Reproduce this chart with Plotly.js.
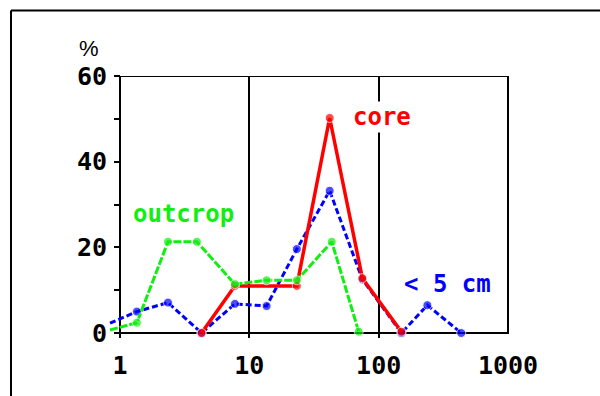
<!DOCTYPE html>
<html>
<head>
<meta charset="utf-8">
<script src="https://cdn.plot.ly/plotly-3.0.1.min.js"></script>
<style>html,body{margin:0;padding:0;background:#fff;overflow:hidden;}#chart{width:600px;height:396px;}</style>
</head>
<body>
<div id="chart"></div>
<script>
// ---- data ----
const outcropX = [0.837, 1.35, 2.35, 3.93, 7.73, 13.6, 23.3, 43.4, 70.1];
const outcropY = [0.7, 2.4, 21.3, 21.3, 11.4, 12.3, 12.3, 21.3, 0.3];
const coreX = [4.27, 7.73, 23.3, 41.8, 74.8, 150];
const coreY = [0, 11, 11, 50.2, 12.8, 0.3];
const smallX = [0.837, 1.35, 2.35, 4.27, 7.73, 13.6, 23.3, 41.8, 74.8, 150, 238, 435];
const smallY = [2.3, 5.0, 7.1, 0, 6.8, 6.3, 19.6, 33.2, 12.5, 0, 6.5, 0];
const xTickVals = [1, 10, 100, 1000];
const xTickText = ['1', '10', '100', '1000'];
const yTickVals = [0, 10, 20, 30, 40, 50, 60];
const yTickText = ['0', '', '20', '', '40', '', '60'];
const labelCore = 'core';
const labelOutcrop = 'outcrop';
const labelSmall = '&lt; 5 cm';
const unitLabel = '%';

// ---- geometry ----
const W = 600, H = 396, ML = 105, MR = 92, MT = 76, MB = 58;
const plotW = W - ML - MR, plotH = H - MT - MB;
const px2paperX = p => (p - ML) / plotW;
const px2paperY = p => (H - MB - p) / plotH;
const xr0 = -45 / 388;           // so that x=1 sits 15px inside the left edge
const y0 = -300 / 257;           // so that y=0 sits 5px above the bottom edge
const xOne = (0 - xr0) / (3 - xr0);

const traces = [
  {x: smallX, y: smallY, mode: 'lines+markers', type: 'scatter', cliponaxis: false,
   line: {color: '#0000ff', width: 3, dash: '6px,3px'},
   marker: {color: '#0000ff', size: smallX.map((v, i) => i === 0 ? 0 : 9)}},
  {x: coreX, y: coreY, mode: 'lines+markers', type: 'scatter', cliponaxis: false,
   line: {color: '#ff0000', width: 3.5},
   marker: {color: '#ff0000', size: coreX.map(() => 9)}},
  {x: outcropX, y: outcropY, mode: 'lines+markers', type: 'scatter', cliponaxis: false,
   line: {color: '#11ee11', width: 3, dash: '8px,2px'},
   marker: {color: '#11ee11', size: outcropX.map((v, i) => i === 0 ? 0 : 9)}}
];

const tickFont = {family: 'DejaVu Sans Mono', size: 25, color: '#000', weight: 'bold'};
const annFont = c => ({family: 'DejaVu Sans Mono', size: 24, color: c, weight: 'bold'});

const layout = {
  width: W, height: H,
  margin: {l: ML, r: MR, t: MT, b: MB, pad: 0},
  paper_bgcolor: '#ffffff', plot_bgcolor: '#ffffff',
  showlegend: false,
  xaxis: {
    type: 'log', range: [xr0, 3], fixedrange: true,
    tickvals: xTickVals, ticktext: xTickText, tickfont: tickFont,
    showgrid: true, gridcolor: '#000', gridwidth: 2,
    showline: false, zeroline: false, ticks: '', ticklabelstandoff: 10
  },
  yaxis: {
    range: [y0, 60], fixedrange: true, anchor: 'free', position: xOne,
    tickvals: yTickVals, ticktext: yTickText, tickfont: tickFont,
    showgrid: false, zeroline: false, showline: false,
    ticks: 'outside', ticklen: 6, tickwidth: 2, tickcolor: '#000', ticklabelstandoff: 2
  },
  shapes: [
    {type: 'rect', xref: 'paper', yref: 'y', x0: xOne, x1: 1, y0: 0, y1: 60,
     line: {color: '#000', width: 2}, layer: 'below'},
    {type: 'line', xref: 'paper', yref: 'paper', x0: px2paperX(11), x1: px2paperX(620),
     y0: px2paperY(10.5), y1: px2paperY(10.5), line: {color: '#000', width: 2}},
    {type: 'line', xref: 'paper', yref: 'paper', x0: px2paperX(11), x1: px2paperX(11),
     y0: px2paperY(10.5), y1: px2paperY(420), line: {color: '#000', width: 2}}
  ],
  annotations: [
    {text: labelCore, xref: 'x', yref: 'y', x: 1.789, y: 50.4, xanchor: 'left', yanchor: 'middle',
     showarrow: false, font: annFont('#ff0000'), bgcolor: '#ffffff'},
    {text: labelOutcrop, xref: 'x', yref: 'y', x: 0.085, y: 27.8, xanchor: 'left', yanchor: 'middle',
     showarrow: false, font: annFont('#11ee11')},
    {text: labelSmall, xref: 'x', yref: 'y', x: 2.178, y: 11.4, xanchor: 'left', yanchor: 'middle',
     showarrow: false, font: annFont('#0000ff')},
    {text: unitLabel, xref: 'paper', yref: 'paper', x: px2paperX(89), y: px2paperY(48),
     xanchor: 'center', yanchor: 'middle', showarrow: false,
     font: {family: 'Liberation Sans', size: 22, color: '#000'}}
  ]
};

Plotly.newPlot('chart', traces, layout, {displayModeBar: false, staticPlot: true});
</script>
</body>
</html>
